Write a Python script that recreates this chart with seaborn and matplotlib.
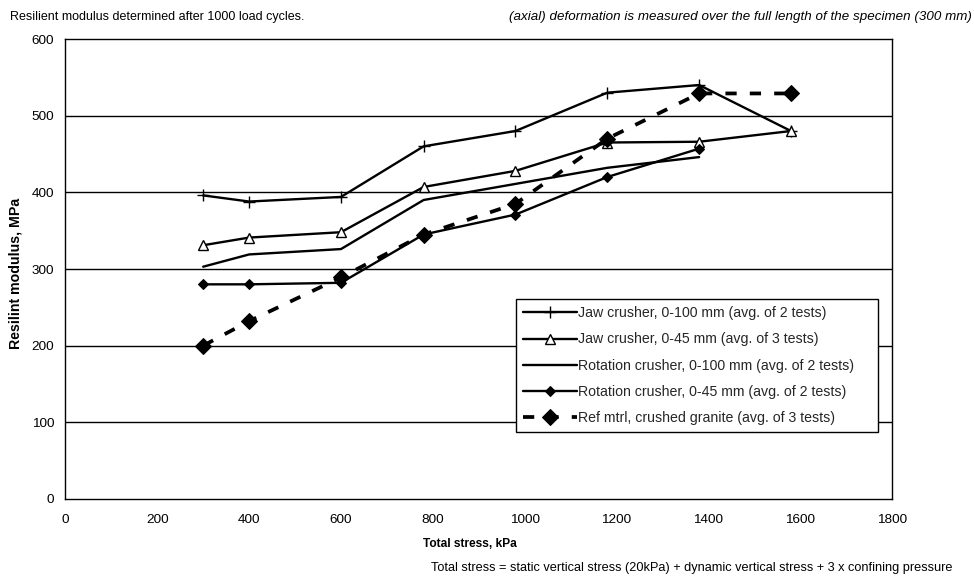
import matplotlib
matplotlib.use("Agg")
import matplotlib.pyplot as plt
import seaborn as sns
import pandas as pd

# ---- data ----
stress_8 = [300, 400, 600, 780, 980, 1180, 1380, 1580]
stress_7 = [300, 400, 600, 780, 980, 1180, 1380]

jaw_100 = [396, 388, 394, 460, 480, 530, 540, 480]
jaw_45 = [331, 341, 348, 407, 428, 465, 466, 480]
rot_100 = [303, 319, 326, 390, 411, 432, 446]
rot_45 = [280, 280, 282, 345, 371, 420, 457]
ref_granite = [200, 232, 289, 345, 385, 470, 529, 529]

labels = [
    "Jaw crusher, 0-100 mm (avg. of 2 tests)",
    "Jaw crusher, 0-45 mm (avg. of 3 tests)",
    "Rotation crusher, 0-100 mm (avg. of 2 tests)",
    "Rotation crusher, 0-45 mm (avg. of 2 tests)",
    "Ref mtrl, crushed granite (avg. of 3 tests)",
]
xticks = [0, 200, 400, 600, 800, 1000, 1200, 1400, 1600, 1800]
yticks = [0, 100, 200, 300, 400, 500, 600]

sns.set_theme(style="white")
plt.rcParams["font.family"] = ["Liberation Sans", "DejaVu Sans"]

fig = plt.figure(figsize=(9.74, 5.78), dpi=100)
ax = fig.add_axes([0.0672, 0.1367, 0.8486, 0.7958])

series = [
    (stress_8, jaw_100, dict(marker="+", markersize=8, markeredgewidth=1.0, linestyle="-", linewidth=1.7)),
    (stress_8, jaw_45, dict(marker="^", markersize=7, markerfacecolor="white",
                            markeredgewidth=1.0, linestyle="-", linewidth=1.7)),
    (stress_7, rot_100, dict(marker=None, linestyle="-", linewidth=1.7)),
    (stress_7, rot_45, dict(marker="D", markersize=5.5, markerfacecolor="black", linestyle="-", linewidth=1.7)),
    (stress_8, ref_granite, dict(marker="D", markersize=8.5, markerfacecolor="black",
                                 linestyle=(0, (3, 3.5)), linewidth=2.7)),
]

for (xs, ys, kw), lab in zip(series, labels):
    df = pd.DataFrame({"x": xs, "y": ys})
    kw = dict(kw)
    kw["markeredgecolor"] = "black"
    sns.lineplot(data=df, x="x", y="y", ax=ax, color="black", label=lab, **kw)

ax.set_xlim(0, 1800)
ax.set_ylim(0, 600)
ax.set_xticks(xticks)
ax.set_yticks(yticks)
ax.tick_params(axis="both", which="both", direction="out", length=4, width=0.8,
               color="black", labelsize=9.7, labelcolor="black", pad=4)
ax.tick_params(axis="x", pad=7)
ax.grid(False)
for yv in yticks[1:-1]:
    ax.axhline(yv, color="black", linewidth=1.0, zorder=0)
for sp in ax.spines.values():
    sp.set_color("black")
    sp.set_linewidth(1.0)

ax.set_xlabel("Total stress, kPa", fontsize=8.6, fontweight="bold", color="black")
ax.xaxis.set_label_coords(0.489, -0.085)
ax.set_ylabel("Resilint modulus, MPa", fontsize=10.2, fontweight="bold", color="black")
ax.yaxis.set_label_coords(-0.052, 0.49)

leg = ax.legend(loc="upper left", bbox_to_anchor=(0.545, 0.434, 0.438, 0.0), mode="expand",
                frameon=True, fancybox=False, edgecolor="black", framealpha=1,
                fontsize=10.2, handlelength=3.8, handletextpad=0.1, labelspacing=0.85,
                borderaxespad=0, borderpad=0.5)
leg.get_frame().set_linewidth(1.0)

fig.text(10 / 974, 1 - 17 / 578, "Resilient modulus determined after 1000 load cycles.",
         fontsize=9.0, ha="left", va="center", color="black")
fig.text(972 / 974, 1 - 17 / 578,
         "(axial) deformation is measured over the full length of the specimen (300 mm)",
         fontsize=9.6, ha="right", va="center", style="italic", color="black")
fig.text(692 / 974, 1 - 568 / 578,
         "Total stress = static vertical stress (20kPa) + dynamic vertical stress + 3 x confining pressure",
         fontsize=9.2, ha="center", va="center", color="black")

fig.savefig("out.png", dpi=100)
